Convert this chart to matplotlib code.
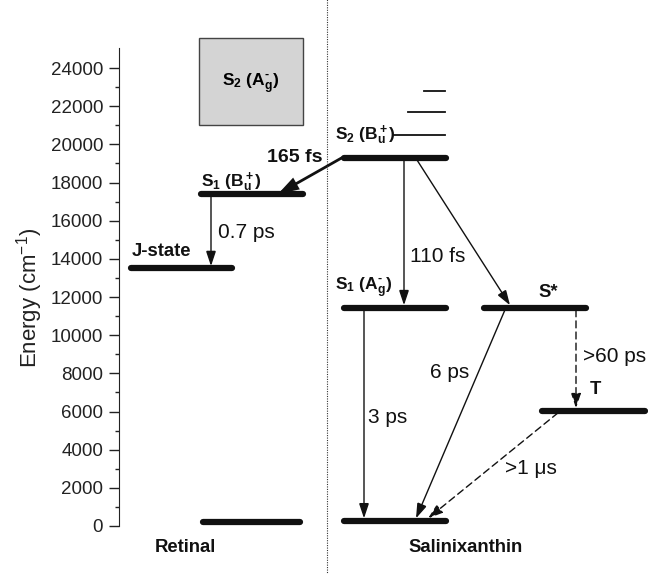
import matplotlib
matplotlib.use('Agg')
import matplotlib.pyplot as plt
from matplotlib.patches import FancyArrowPatch, Rectangle
import numpy as np

plt.rcParams['font.family'] = ['Liberation Sans', 'DejaVu Sans']
plt.rcParams['mathtext.fontset'] = 'custom'
plt.rcParams['mathtext.rm'] = 'Liberation Sans'
plt.rcParams['mathtext.bf'] = 'Liberation Sans:bold'
plt.rcParams['mathtext.it'] = 'Liberation Sans:italic'

# energy levels (cm^-1)
retinal_levels = {'S0': 200, 'S1': 17400, 'J': 13500}
salx_levels = {'S0': 280, 'S2': 19300, 'S1': 11450, 'Sstar': 11450, 'T': 6050}
s2_vib_levels = [20500, 21700, 22800]
s2_ag_band = [21000, 25600]   # S2(Ag-) of retinal, bottom / top
yticks = np.arange(0, 24001, 2000)

# transitions: (from, to, label)
transitions = [
    ('sal S2', 'ret S1', '165 fs'),
    ('ret S1', 'ret J', '0.7 ps'),
    ('sal S2', 'sal S1', '110 fs'),
    ('sal S2', 'sal Sstar', ''),
    ('sal S1', 'sal S0', '3 ps'),
    ('sal Sstar', 'sal S0', '6 ps'),
    ('sal Sstar', 'sal T', '>60 ps'),
    ('sal T', 'sal S0', '>1 \u03bcs'),
]

HY = '\u2010'  # short hyphen for the superscript minus
fig = plt.figure(figsize=(6.48, 5.74), dpi=100)
W, H = 648, 574
ax = fig.add_axes([119 / W, 48 / H, (W - 119) / W, 478 / H])
ax.set_xlim(119, 648)
ax.set_ylim(0, 25050)
for s in ['top', 'right', 'bottom']:
    ax.spines[s].set_visible(False)
ax.spines['left'].set_color('#222222')
ax.set_xticks([])
ax.set_yticks(yticks)
ax.set_yticks(np.arange(1000, 25000, 2000), minor=True)
ax.tick_params(axis='y', which='major', direction='out', length=7, width=1,
               labelsize=13.5, colors='#222222', pad=4.5)
ax.tick_params(axis='y', which='minor', direction='out', length=3, width=1,
               colors='#222222')
fig.text(30 / W, 1 - 298 / H, 'Energy (cm$^{-1}$)', rotation=90, ha='center',
         va='center', fontsize=16, color='#222222')

bar_kw = dict(color='#111111', lw=4.5, solid_capstyle='round')

# x extents of each level bar
xpos = {
    'ret S0': (203, 300), 'ret S1': (201, 303), 'ret J': (131, 232),
    'sal S0': (344, 446), 'sal S2': (344, 446), 'sal S1': (344, 446),
    'sal Sstar': (484, 586), 'sal T': (542, 645),
}
energy = {'ret ' + k: v for k, v in retinal_levels.items()}
energy.update({'sal ' + k: v for k, v in salx_levels.items()})

for k, (x0, x1) in xpos.items():
    ax.plot([x0, x1], [energy[k]] * 2, **bar_kw)

# vibrational sublevels of S2
for e, x0 in zip(s2_vib_levels, [394, 408, 424]):
    ax.plot([x0, 445], [e, e], color='#111111', lw=1.3)

# S2(Ag-) band box
ax.add_patch(Rectangle((199, s2_ag_band[0]), 104, s2_ag_band[1] - s2_ag_band[0],
                       facecolor='#d4d4d4', edgecolor='#444444', lw=1, clip_on=False))
ax.text(251, 23150, '$\\mathbf{S_2\\ (A_g^{' + HY + '})}$', ha='center', va='center',
        fontsize=12.5)

# dotted separator
ax.axvline(327, ymin=-0.11, ymax=1.11, clip_on=False, color='#333333', lw=0.8,
           linestyle=(0, (1, 1.2)))


def arrow(p0, p1, lw=1.0, ls='-', hl=0.9, hw=0.3):
    a = FancyArrowPatch(p0, p1, arrowstyle=f'-|>,head_length={hl},head_width={hw}',
                        mutation_scale=10, lw=lw, color='#111111', linestyle=ls,
                        shrinkA=0, shrinkB=0, joinstyle='miter')
    ax.add_patch(a)


dash = (0, (5, 3))
# arrow endpoints (x) for each transition
arrow_x = {
    0: (342, 278), 1: (211, 211), 2: (404, 404), 3: (417, 510),
    4: (364, 364), 5: (505, 416), 6: (576, 576), 7: (558, 428),
}
for i, (a, b, lab) in enumerate(transitions):
    x0, x1 = arrow_x[i]
    y0, y1 = energy[a], energy[b]
    if i == 0:
        arrow((x0, y0), (x1, y1), lw=2.0, hl=1.1, hw=0.35)
    elif lab.startswith('>'):
        arrow((x0, y0 - 120), (x1, y1 + 120), ls=dash)
    else:
        arrow((x0, y0 - 120), (x1, y1 + 120))

# level labels
lab_kw = dict(fontsize=12.5, va='center', color='#111111')
ax.text(201, 18030, r'$\mathbf{S_1\ (B_u^+)}$', ha='left', **lab_kw)
ax.text(335, 20490, r'$\mathbf{S_2\ (B_u^+)}$', ha='left', **lab_kw)
ax.text(335, 12470, '$\\mathbf{S_1\\ (A_g^{' + HY + '})}$', ha='left', **lab_kw)
bold_kw = dict(fontsize=13.3, color='#111111', fontweight='bold')
ax.text(132, 14360, 'J-state', ha='left', va='center', **bold_kw)
ax.text(548, 12260, 'S*', ha='center', va='center', **bold_kw)
ax.text(590, 7130, 'T', ha='left', va='center', **bold_kw)

# rate labels
rate_kw = dict(fontsize=15, va='center', color='#111111')
ax.text(267, 19290, transitions[0][2], ha='left', fontweight='bold', fontsize=14,
        va='center', color='#111111')
ax.text(218, 15360, transitions[1][2], ha='left', **rate_kw)
ax.text(410, 14100, transitions[2][2], ha='left', **rate_kw)
ax.text(368, 5710, transitions[4][2], ha='left', **rate_kw)
ax.text(430, 8070, transitions[5][2], ha='left', **rate_kw)
ax.text(583, 8860, transitions[6][2], ha='left', **rate_kw)
ax.text(505, 2990, transitions[7][2], ha='left', **rate_kw)

# group labels
ax.text(185, -1150, 'Retinal', ha='center', va='center', clip_on=False, **bold_kw)
ax.text(466, -1150, 'Salinixanthin', ha='center', va='center', clip_on=False, **bold_kw)

fig.savefig('out.png', dpi=100)
